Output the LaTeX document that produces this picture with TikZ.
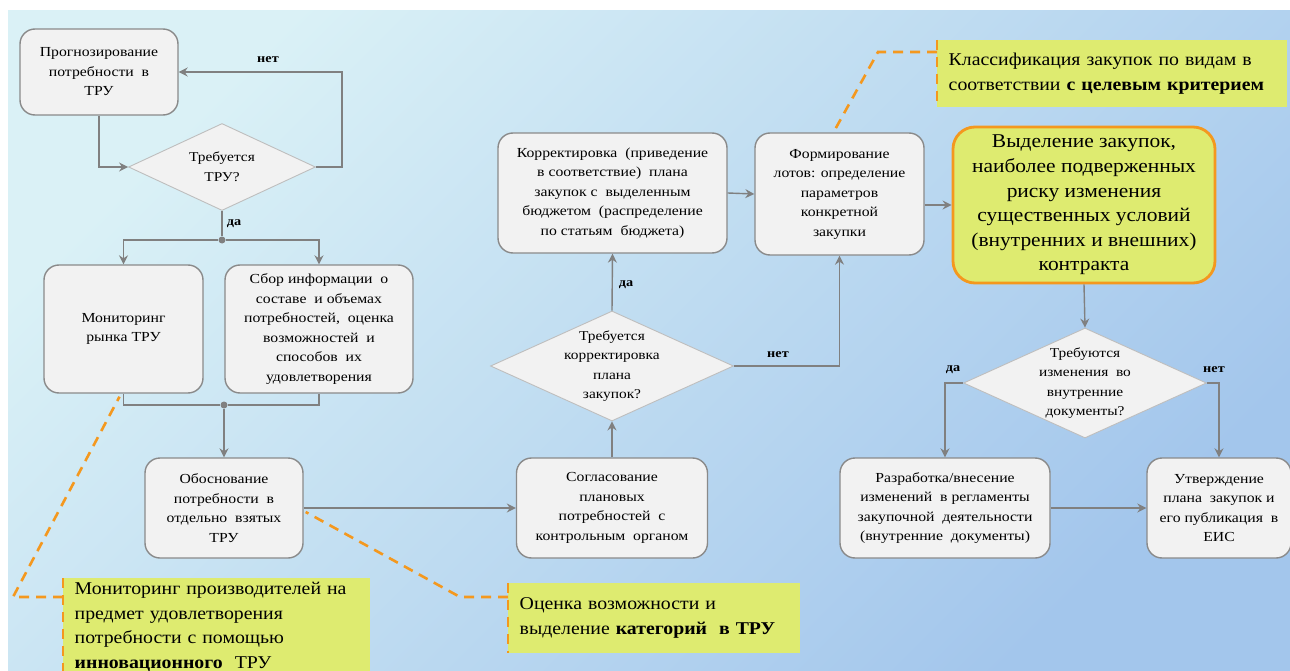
\documentclass[tikz,border=0pt]{standalone}
\usepackage{fontspec}
\setmainfont{Liberation Serif}
\newfontfamily\boxfont{Liberation Serif}[FakeStretch=1.14]
\newfontfamily\callfont{Liberation Serif}[FakeStretch=1.1]
\usetikzlibrary{shapes.geometric,arrows.meta,calc}
\definecolor{bgA}{RGB}{218,241,246}
\definecolor{bgB}{RGB}{163,198,236}
\definecolor{boxfill}{RGB}{242,242,242}
\definecolor{boxborder}{RGB}{138,138,138}
\definecolor{diaborder}{RGB}{190,190,190}
\definecolor{linegray}{RGB}{128,128,128}
\definecolor{callfill}{RGB}{222,235,112}
\definecolor{orangeln}{RGB}{244,152,30}
\begin{document}
\begin{tikzpicture}[x=1pt,y=-1pt,
  box/.style={draw=boxborder, line width=1.4pt, fill=boxfill, rounded corners=15pt,
    align=center, font=\boxfont\fontsize{13.8}{19.5}\selectfont, inner sep=0pt, text=black},
  dia/.style={diamond, draw=diaborder, line width=0.9pt, fill=boxfill, inner sep=0pt},
  dtext/.style={align=center, font=\boxfont\fontsize{13.5}{19.5}\selectfont},
  arr/.style={draw=linegray, line width=1.4pt, -{Stealth[length=9pt,width=9pt,inset=3pt]}},
  ln/.style={draw=linegray, line width=1.4pt},
  lbl/.style={font=\boxfont\bfseries\fontsize{12.5}{13}\selectfont, inner sep=0pt},
  callout/.style={fill=callfill, align=left, font=\callfont\fontsize{18}{25.5}\selectfont, inner sep=0pt, anchor=north west},
  call/.style={draw=orangeln, line width=2.6pt, dash pattern=on 10pt off 7pt},
  dot/.style={circle, fill=linegray, inner sep=0pt, minimum size=7pt}
]
\clip (0,0) rectangle (1290,671);
\useasboundingbox (0,0) rectangle (1290,671);
\fill[white] (0,0) rectangle (1290,671);
\shade[shading=axis, top color=bgA, bottom color=bgB, shading angle=45] (8,11) rectangle (1290,671);

% boxes
\node[box, minimum width=158, minimum height=86] (b1) at (99,72) {Прогнозирование\\потребности\ \ в\\ТРУ};
\node[dia, minimum width=187, minimum height=87] (d1) at (222,167) {};
\node[dtext] at (d1.center) {Требуется\\ТРУ?};
\node[box, minimum width=159, minimum height=128] (b2) at (123.5,329) {Мониторинг\\рынка ТРУ};
\node[box, minimum width=188, minimum height=128] (b3) at (319,329) {Сбор информации\ \ о\\составе\ \ и объемах\\потребностей,\ \ оценка\\возможностей\ \ и\\способов\ \ их\\удовлетворения};
\node[box, minimum width=158, minimum height=100] (b4) at (224,508) {Обоснование\\потребности\ \ в\\отдельно\ \ взятых\\ТРУ};
\node[box, minimum width=191, minimum height=100] (b5) at (612,508) {Согласование\\плановых\\потребностей\ \ с\\контрольным\ \ органом};
\node[dia, minimum width=243, minimum height=110] (d2) at (612,366) {};
\node[dtext] at (d2.center) {Требуется\\корректировка\\плана\\закупок?};
\node[box, minimum width=229, minimum height=120] (b6) at (612.5,193) {Корректировка\ \ (приведение\\в соответствие)\ \ плана\\закупок с\ \ выделенным\\бюджетом\ \ (распределение\\по статьям\ \ бюджета)};
\node[box, minimum width=169, minimum height=122] (b7) at (839.5,194) {Формирование\\лотов: определение\\параметров\\конкретной\\закупки};
\node[box, draw=orangeln, line width=2.8pt, fill=callfill, minimum width=262, minimum height=156, rounded corners=22pt, font=\callfont\fontsize{19.5}{24.6}\selectfont] (b8) at (1084,205) {Выделение закупок,\\наиболее подверженных\\риску изменения\\существенных условий\\(внутренних и внешних)\\контракта};
\node[dia, minimum width=243, minimum height=110] (d3) at (1085,383) {};
\node[dtext] at (d3.center) {Требуются\\изменения\ \ во\\внутренние\\документы?};
\node[box, minimum width=210, minimum height=100] (b9) at (945,508) {Разработка/внесение\\изменений\ \ в регламенты\\закупочной\ \ деятельности\\(внутренние\ \ документы)};
\node[box, minimum width=144, minimum height=100] (b10) at (1219,508) {Утверждение\\плана\ \ закупок и\\его публикация\ \ в\\ЕИС};

% callouts
\node[callout, minimum width=350, minimum height=67, text width=345] (c1) at (937,40) {\hspace*{9pt}Классификация закупок по видам в\\\hspace*{9pt}соответствии \textbf{с целевым критерием}};
\node[callout, minimum width=307, minimum height=97, text width=302, font=\callfont\fontsize{18}{24.5}\selectfont] (c2) at (63,578) {\hspace*{9pt}Мониторинг производителей на\\\hspace*{9pt}предмет удовлетворения\\\hspace*{9pt}потребности с помощью\\\hspace*{9pt}\textbf{инновационного}\ \ ТРУ};
\node[callout, minimum width=292, minimum height=70, text width=287] (c3) at (508,583) {\hspace*{9pt}Оценка возможности и\\\hspace*{9pt}выделение \textbf{категорий\ \ в ТРУ}};

% junctions
\node[dot] (j1) at (222,240) {};
\node[dot] (j2) at (224,405) {};
\coordinate (r1) at (342,167);
\coordinate (r2) at (342,72);

% connectors
\draw[arr] (b1.south) |- (d1.west);
\draw[arr] (d1.east) -- (r1) -- (r2) -- (b1.east);
\node[lbl] at (268,60) {нет};
\draw[ln] (d1.south) -- (j1);
\node[lbl] at (234,224) {да};
\draw[arr] (j1) -| (b2.north);
\draw[arr] (j1) -| (b3.north);
\draw[ln] (b2.south) |- (j2);
\draw[ln] (b3.south) |- (j2);
\draw[arr] (j2) -- (b4.north);
\draw[arr] (b4.east) -- (b5.west);
\draw[arr] (b5.north) -- (d2.south);
\draw[arr] (d2.north) -- (b6.south);
\node[lbl] at (626,285) {да};
\draw[arr] (d2.east) -| (b7.south);
\node[lbl] at (778,355) {нет};
\draw[arr] (b6.east) -- (b7.west);
\draw[arr] (b7.east |- b8.west) -- (b8.west);
\draw[arr] (b8.south) -- (d3.north);
\draw[arr] (d3.west) -| (b9.north);
\node[lbl] at (953,370) {да};
\draw[arr] (d3.east) -| (b10.north);
\node[lbl] at (1214,370) {нет};
\draw[arr] (b9.east) -- (b10.west);

% callout dashed leaders
\coordinate (k1) at (878,52);
\coordinate (k2) at (13,597);
\coordinate (k3) at (460,597);
\draw[call] (c1.north west) -- (c1.south west);
\draw[call] ($(c1.north west)+(0,12)$) -- (k1) -- ($(b7.north)+(-6,0)$);
\draw[call] (c2.north west) -- ++(0,97);
\draw[call] ($(c2.north west)+(0,19)$) -- (k2) -- ($(b2.south)+(-4,3)$);
\draw[call] (c3.north west) -- (c3.south west);
\draw[call] ($(c3.north west)+(0,14)$) -- (k3) -- ($(b4.east)+(2,4)$);
\end{tikzpicture}
\end{document}
